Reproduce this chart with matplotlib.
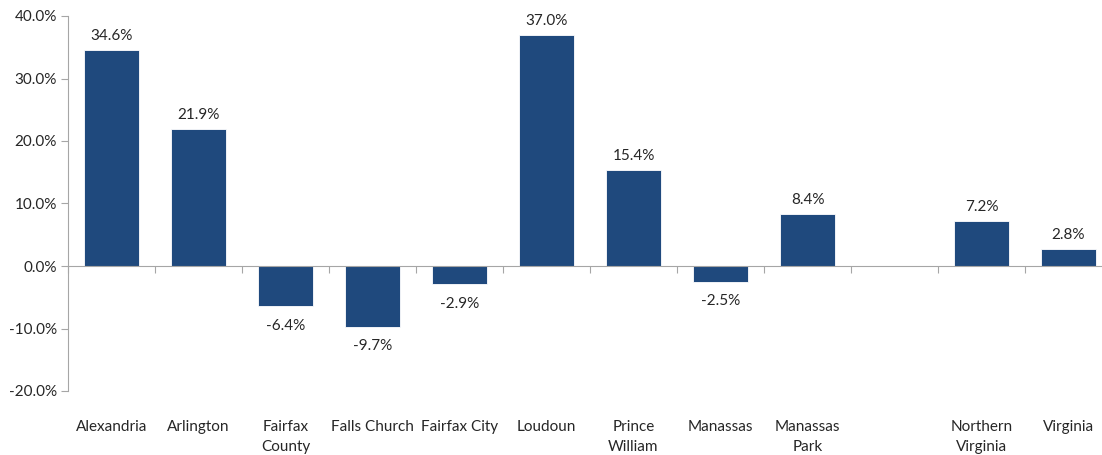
import numpy as np
import matplotlib.pyplot as plt
import matplotlib.transforms as mtransforms

plt.rcParams['font.family'] = ['Lato', 'DejaVu Sans']

categories = ['Alexandria', 'Arlington', 'Fairfax\nCounty', 'Falls Church', 'Fairfax City',
              'Loudoun', 'Prince\nWilliam', 'Manassas', 'Manassas\nPark', '',
              'Northern\nVirginia', 'Virginia']
values = [34.6, 21.9, -6.4, -9.7, -2.9, 37.0, 15.4, -2.5, 8.4, np.nan, 7.2, 2.8]

fig = plt.figure(figsize=(11.02, 4.55), dpi=100)
# plot area runs a little past the right edge, like the original
ax = fig.add_axes([68 / 1102, 1 - 391 / 455, 1044 / 1102, 375 / 455])

x = np.arange(len(categories))
vals = np.array(values) / 100
ax.bar(x, np.nan_to_num(vals), width=0.63, color='#1F497D', edgecolor='white', linewidth=0.6, zorder=2)

ax.set_xlim(-0.5, len(categories) - 0.5)
ax.set_ylim(-0.2, 0.4)
ax.set_yticks(np.arange(-0.2, 0.41, 0.1))
ax.set_yticklabels([f'{t * 100:.1f}%' for t in np.arange(-0.2, 0.41, 0.1)])

grey = '#A6A6A6'
for s in ['top', 'right']:
    ax.spines[s].set_visible(False)
ax.spines['left'].set_color(grey)
ax.spines['bottom'].set_position(('data', 0))
ax.spines['bottom'].set_color(grey)
ax.tick_params(axis='y', direction='out', length=5, color=grey, labelsize=11, labelcolor='#262626', pad=3)

ax.set_xticks(np.arange(len(categories) + 1) - 0.5)
ax.set_xticklabels([])
ax.tick_params(axis='x', direction='out', length=5, color=grey)

# value labels
for xi, v in zip(x, values):
    if np.isnan(v):
        continue
    if v >= 0:
        ax.annotate(f'{v:.1f}%', (xi, v / 100), xytext=(0, 5), textcoords='offset points',
                    ha='center', va='bottom', fontsize=11, color='#262626')
    else:
        ax.annotate(f'{v:.1f}%', (xi, v / 100), xytext=(0, -9), textcoords='offset points',
                    ha='center', va='top', fontsize=11, color='#262626')

# category labels below the plot area
trans = mtransforms.blended_transform_factory(ax.transData, ax.transAxes)
for xi, name in zip(x, categories):
    ax.text(xi, -0.078, name, transform=trans, ha='center', va='top',
            fontsize=11, color='#262626', linespacing=1.5)

fig.savefig('out.png', dpi=100)
